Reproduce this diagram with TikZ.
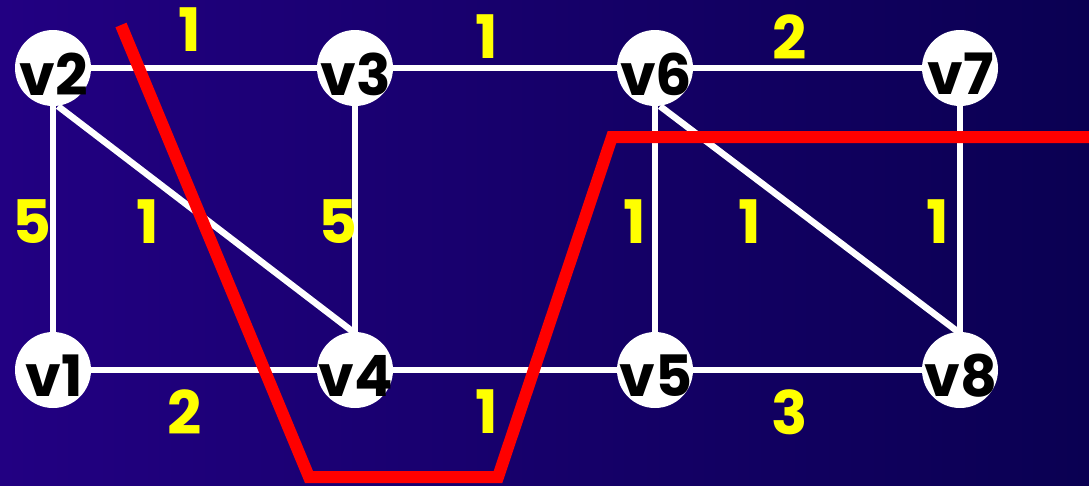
\documentclass[tikz,border=0pt]{standalone}
\usepackage{fontspec}
\setmainfont{Poppins}
\definecolor{bgleft}{RGB}{34,0,130}
\definecolor{bgright}{RGB}{10,0,82}
\definecolor{lblyellow}{RGB}{255,255,0}
\begin{document}
\begin{tikzpicture}[x=1pt,y=-1pt,
  vert/.style={circle,fill=white,minimum size=76pt,inner sep=0pt},
  vtxt/.style={font=\fontsize{57}{57}\selectfont\bfseries,text=black,inner sep=0pt},
  edge/.style={draw=white,line width=6.5pt},
  wlbl/.style={font=\fontsize{60}{60}\selectfont\bfseries,text=lblyellow,inner sep=0pt},
  cut/.style={draw=red,line width=12pt,line join=miter}]
\fill[left color=bgleft,right color=bgright] (0,0) rectangle (1089,485);
\useasboundingbox (0,0) rectangle (1089,485);
% vertices
\node[vert] (v2) at (53,68) {};
\node[vert] (v3) at (355,68) {};
\node[vert] (v6) at (655,68) {};
\node[vert] (v7) at (960,68) {};
\node[vert] (v1) at (53,370) {};
\node[vert] (v4) at (355,370) {};
\node[vert] (v5) at (655,370) {};
\node[vert] (v8) at (960,370) {};
% edges
\path[edge] (v2) -- (v3);
\path[edge] (v3) -- (v6);
\path[edge] (v6) -- (v7);
\path[edge] (v1) -- (v4);
\path[edge] (v4) -- (v5);
\path[edge] (v5) -- (v8);
\path[edge] (v2) -- (v1);
\path[edge] (v3) -- (v4);
\path[edge] (v6) -- (v5);
\path[edge] (v7) -- (v8);
\path[edge] ([xshift=5pt]v2.south) -- ([xshift=-2pt]v4.north);
\path[edge] ([xshift=5pt]v6.south) -- ([xshift=-2pt]v8.north);
% vertex labels
\foreach \n in {v1,v2,v3,v4,v5,v6,v7,v8}{
  \node[vtxt] at ([xshift=1pt,yshift=-6pt]\n.center) {\n};
}
% weights
\node[wlbl] (w23) at (190,30) {1};
\node[wlbl] (w36) at (487,37) {1};
\node[wlbl] (w67) at (790,37) {2};
\node[wlbl] (w21) at (32,222) {5};
\node[wlbl] (w24) at (148,222) {1};
\node[wlbl] (w34) at (338,222) {5};
\node[wlbl] (w65) at (635,222) {1};
\node[wlbl] (w68) at (750,222) {1};
\node[wlbl] (w78) at (938,222) {1};
\node[wlbl] (w14) at (185,412) {2};
\node[wlbl] (w45) at (487,412) {1};
\node[wlbl] (w58) at (790,412) {3};
% cut
\coordinate (c0) at (121,25);
\coordinate (c1) at (309,477);
\coordinate (c2) at (498,477);
\coordinate (c3) at (612,137);
\coordinate (c4) at (1095,137);
\draw[cut] (c0) -- (c1) -- (c2) -- (c3) -- (c4);
\end{tikzpicture}
\end{document}
